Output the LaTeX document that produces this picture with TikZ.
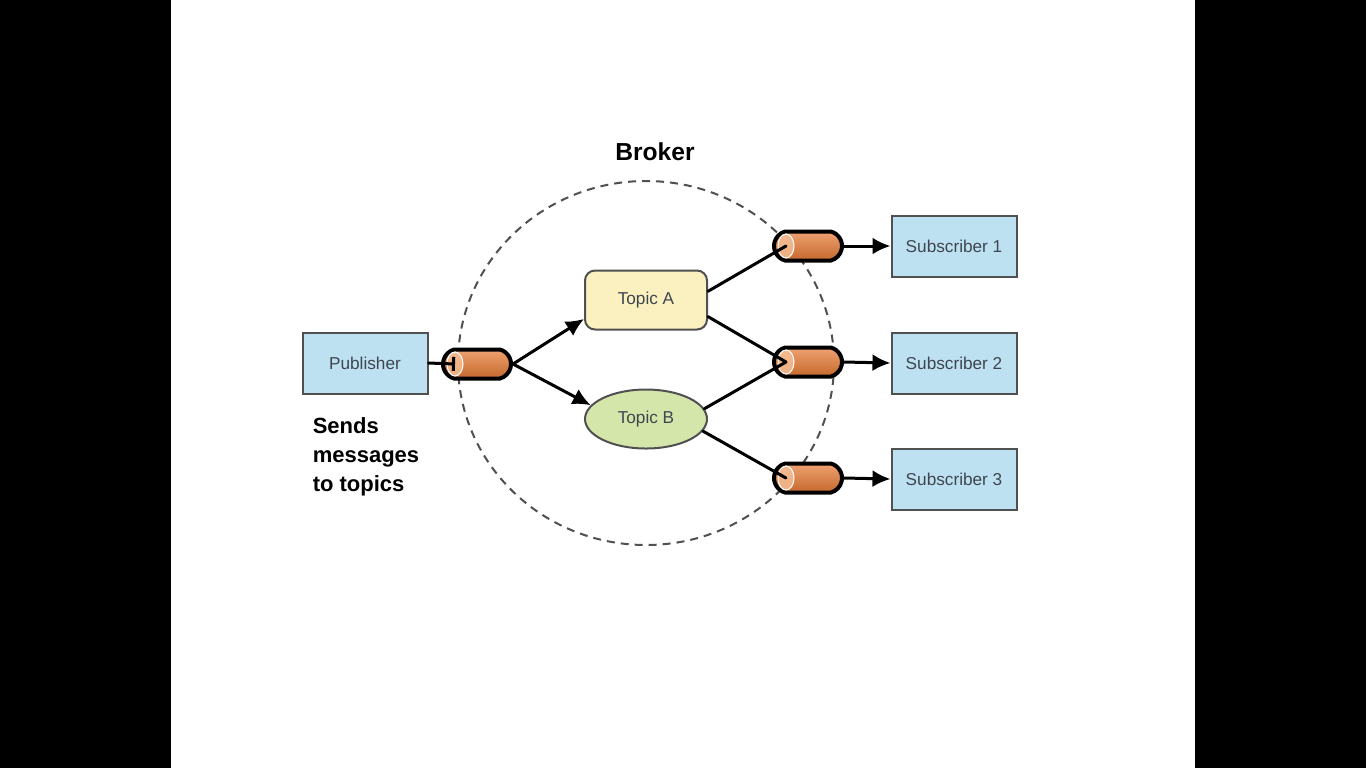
\documentclass[tikz,border=0pt]{standalone}
\usepackage{fontspec}
\setmainfont{Liberation Sans}
\usetikzlibrary{shapes.geometric, shapes.misc, arrows.meta}
\definecolor{boxblue}{RGB}{190,225,242}
\definecolor{topicyellow}{RGB}{250,240,192}
\definecolor{topicgreen}{RGB}{212,230,170}
\definecolor{pipeorange}{RGB}{232,122,52}
\definecolor{pipeend}{RGB}{246,192,152}
\definecolor{labelgray}{RGB}{62,70,80}
\definecolor{edgegray}{RGB}{80,80,80}

\begin{document}
\begin{tikzpicture}[x=0.5pt, y=-0.5pt,
  client/.style={draw=edgegray, line width=1pt, fill=boxblue, minimum width=62.5pt, minimum height=30.5pt, inner sep=0pt, text=labelgray, font=\fontsize{8.6}{10}\selectfont},
  topic/.style={draw=edgegray, line width=1pt, minimum width=61pt, minimum height=29.5pt, inner sep=0pt, text=labelgray, font=\fontsize{8.6}{10}\selectfont},
  pipe/.style={rounded rectangle, rounded rectangle arc length=150, draw=black, line width=2pt, top color=pipeorange!70!white, middle color=pipeorange, bottom color=pipeorange!85!black, minimum width=34pt, minimum height=14.5pt, inner sep=0pt},
  face/.style={draw=white, line width=0.5pt, fill=pipeend, fill opacity=0.8},
  link/.style={black, line width=1.5pt, line cap=round},
  feed/.style={link, -{Latex[length=9pt, width=8.5pt]}}]
% frame
\fill[black] (0, 0) rectangle (1366, 768);
\fill[white] (171, 0) rectangle (1195, 768);
% broker
\draw[edgegray, line width=1pt, dash pattern=on 4pt off 3pt] (646, 363) ellipse (188 and 182);
\node[font=\bfseries\fontsize{12.3}{14}\selectfont] (broker) at (655, 152) {Broker};
% clients
\node[client] (pub) at (365, 363) {Publisher};
\node[client] (sub1) at (954, 246) {Subscriber 1};
\node[client] (sub2) at (954, 363) {Subscriber 2};
\node[client] (sub3) at (954, 479) {Subscriber 3};
\node[align=left, font=\bfseries\fontsize{11}{14.5}\selectfont] (note) at (366, 457) {Sends\\messages\\to topics};
% topics
\node[topic, rounded corners=5pt, fill=topicyellow] (ta) at (646, 300) {Topic A};
\node[topic, ellipse, fill=topicgreen] (tb) at (646, 419) {Topic B};
% queues
\node[pipe] (qp) at (477, 364) {};
\node[pipe] (q1) at (808, 246) {};
\node[pipe] (q2) at (808, 362) {};
\node[pipe] (q3) at (808, 478) {};
\coordinate (fp) at ([xshift=7pt]qp.west);
\coordinate (f1) at ([xshift=7pt]q1.west);
\coordinate (f2) at ([xshift=7pt]q2.west);
\coordinate (f3) at ([xshift=7pt]q3.west);
\draw[face] (fp) ellipse (8 and 12);
\draw[face] (f1) ellipse (8 and 12);
\draw[face] (f2) ellipse (8 and 12);
\draw[face] (f3) ellipse (8 and 12);
% links
\draw[link, -{Bar[width=7pt]}] (pub.east) -- (fp);
\draw[feed] (qp.east) -- (ta.197);
\draw[feed] (qp.east) -- (tb.166);
\draw[link] (ta.8) -- (f1);
\draw[link] (ta.-15) -- (f2);
\draw[link] (tb.10) -- (f2);
\draw[link] (tb.-12) -- (f3);
\draw[feed] (q1.east) -- (sub1.west);
\draw[feed] (q2.east) -- (sub2.west);
\draw[feed] (q3.east) -- (sub3.west);
\end{tikzpicture}
\end{document}
